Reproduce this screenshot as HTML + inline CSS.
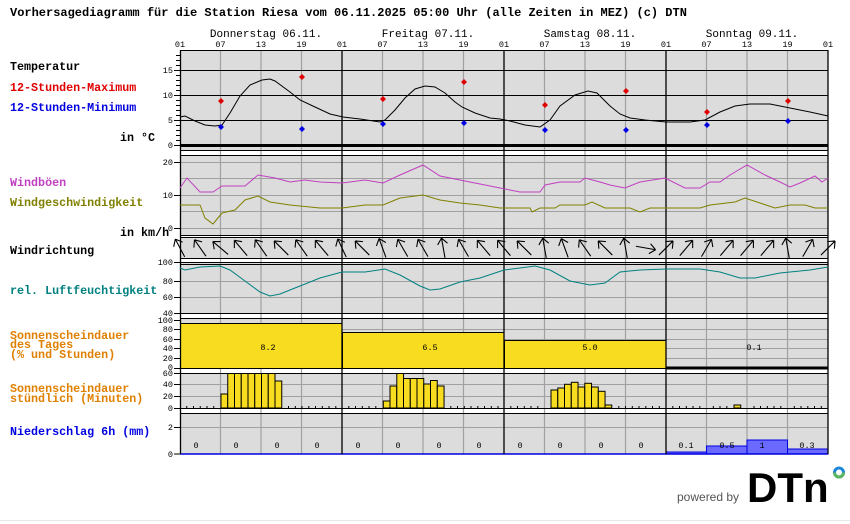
<!DOCTYPE html>
<html><head><meta charset="utf-8"><style>
html,body{margin:0;padding:0;background:#fff;}
svg{display:block;}
.m{font-family:"Liberation Mono",monospace;}
</style></head><body>
<svg width="850" height="524" viewBox="0 0 850 524" xmlns="http://www.w3.org/2000/svg">
<rect width="850" height="524" fill="#fff"/>
<text x="10" y="16" class="m" font-size="12" font-weight="bold">Vorhersagediagramm für die Station Riesa vom 06.11.2025 05:00 Uhr (alle Zeiten in MEZ)  (c) DTN</text>
<g class="m" font-size="11" text-anchor="middle">
<text x="266" y="37">Donnerstag 06.11.</text>
<text x="428" y="37">Freitag 07.11.</text>
<text x="590" y="37">Samstag 08.11.</text>
<text x="752" y="37">Sonntag 09.11.</text>
</g>
<g class="m" font-size="8.5" text-anchor="middle">
<text x="180" y="47">01</text><text x="220.5" y="47">07</text><text x="261" y="47">13</text><text x="301.5" y="47">19</text>
<text x="342" y="47">01</text><text x="382.5" y="47">07</text><text x="423" y="47">13</text><text x="463.5" y="47">19</text>
<text x="504" y="47">01</text><text x="544.5" y="47">07</text><text x="585" y="47">13</text><text x="625.5" y="47">19</text>
<text x="666" y="47">01</text><text x="706.5" y="47">07</text><text x="747" y="47">13</text><text x="787.5" y="47">19</text>
<text x="828" y="47">01</text>
</g>
<rect x="180" y="50" width="648" height="404" fill="#dcdcdc"/>
<g fill="#fff">
<rect x="180" y="151" width="648" height="4"/>
<rect x="180" y="236" width="648" height="1"/>
<rect x="180" y="259" width="648" height="3"/>
<rect x="180" y="314" width="648" height="4"/>
<rect x="180" y="369" width="648" height="4"/>
<rect x="180" y="409" width="648" height="4"/>
</g>
<g stroke="#a0a0a0" stroke-width="1">
<line x1="180" x2="828" y1="178.5" y2="178.5"/><line x1="180" x2="828" y1="195.5" y2="195.5"/><line x1="180" x2="828" y1="211.5" y2="211.5"/><line x1="180" x2="828" y1="162.5" y2="162.5"/><line x1="180" x2="828" y1="228.5" y2="228.5"/>
<line x1="180" x2="828" y1="281.5" y2="281.5"/><line x1="180" x2="828" y1="297.5" y2="297.5"/>
<line x1="180" x2="828" y1="329.5" y2="329.5"/><line x1="180" x2="828" y1="339.5" y2="339.5"/><line x1="180" x2="828" y1="348.5" y2="348.5"/><line x1="180" x2="828" y1="358.5" y2="358.5"/>
<line x1="180" x2="828" y1="384.5" y2="384.5"/><line x1="180" x2="828" y1="396.5" y2="396.5"/>
<line x1="180" x2="828" y1="427.5" y2="427.5"/>
</g>
<g stroke="#a0a0a0" stroke-width="1.2">
<line x1="220.5" x2="220.5" y1="50" y2="454"/><line x1="261" x2="261" y1="50" y2="454"/><line x1="301.5" x2="301.5" y1="50" y2="454"/>
<line x1="382.5" x2="382.5" y1="50" y2="454"/><line x1="423" x2="423" y1="50" y2="454"/><line x1="463.5" x2="463.5" y1="50" y2="454"/>
<line x1="544.5" x2="544.5" y1="50" y2="454"/><line x1="585" x2="585" y1="50" y2="454"/><line x1="625.5" x2="625.5" y1="50" y2="454"/>
<line x1="706.5" x2="706.5" y1="50" y2="454"/><line x1="747" x2="747" y1="50" y2="454"/><line x1="787.5" x2="787.5" y1="50" y2="454"/>
</g>
<g fill="#f8dc20" stroke="#000" stroke-width="1">
<rect x="180.5" y="323.5" width="161.5" height="45"/>
<rect x="342.5" y="332.5" width="161.5" height="36"/>
<rect x="504.5" y="340.5" width="161.5" height="28"/>
</g>
<g fill="#f8dc20" stroke="#000" stroke-width="1">
<rect x="221" y="394" width="6.75" height="14"/><rect x="227.75" y="373.5" width="6.75" height="34.5"/><rect x="234.5" y="373.5" width="6.75" height="34.5"/><rect x="241.25" y="373.5" width="6.75" height="34.5"/><rect x="248" y="373.5" width="6.75" height="34.5"/><rect x="254.75" y="373.5" width="6.75" height="34.5"/><rect x="261.5" y="373.5" width="6.75" height="34.5"/><rect x="268.25" y="373.5" width="6.75" height="34.5"/><rect x="275" y="381" width="6.75" height="27"/>
<rect x="383.3" y="401" width="6.75" height="7"/><rect x="390" y="386" width="6.75" height="22"/><rect x="396.8" y="373.5" width="6.75" height="34.5"/><rect x="403.5" y="378.5" width="6.75" height="29.5"/><rect x="410.3" y="378.5" width="6.75" height="29.5"/><rect x="417" y="378.5" width="6.75" height="29.5"/><rect x="423.8" y="384" width="6.75" height="24"/><rect x="430.5" y="380.5" width="6.75" height="27.5"/><rect x="437.3" y="386" width="6.75" height="22"/>
<rect x="551" y="390" width="6.75" height="18"/><rect x="557.8" y="388" width="6.75" height="20"/><rect x="564.5" y="384.3" width="6.75" height="23.7"/><rect x="571.3" y="382.3" width="6.75" height="25.7"/><rect x="578" y="387" width="6.75" height="21"/><rect x="584.8" y="383.3" width="6.75" height="24.7"/><rect x="591.5" y="387" width="6.75" height="21"/><rect x="598.3" y="391.3" width="6.75" height="16.7"/><rect x="605" y="405" width="6.75" height="3"/>
<rect x="734" y="405" width="6.75" height="3"/>
</g>
<g fill="#6a6aff" stroke="#0000e0" stroke-width="1">
<rect x="666" y="452" width="40.5" height="2"/>
<rect x="706.5" y="446" width="40.5" height="8"/>
<rect x="747" y="440" width="40.5" height="14"/>
<rect x="787.5" y="449" width="40.5" height="5"/>
</g>
<g stroke="#000" stroke-width="1">
<line x1="180" x2="828" y1="70.5" y2="70.5"/><line x1="180" x2="828" y1="95.5" y2="95.5"/><line x1="180" x2="828" y1="120.5" y2="120.5"/>
<line x1="180" x2="828" y1="50.5" y2="50.5"/>
<line x1="180" x2="828" y1="150.5" y2="150.5"/><line x1="180" x2="828" y1="155.5" y2="155.5"/>
<line x1="180" x2="828" y1="235.5" y2="235.5"/><line x1="180" x2="828" y1="237.5" y2="237.5"/>
<line x1="180" x2="828" y1="258.5" y2="258.5"/><line x1="180" x2="828" y1="262.5" y2="262.5"/><line x1="180" x2="828" y1="264.5" y2="264.5"/>
<line x1="180" x2="828" y1="313.5" y2="313.5"/><line x1="180" x2="828" y1="318.5" y2="318.5"/>
<line x1="180" x2="828" y1="373.5" y2="373.5"/>
<line x1="180" x2="828" y1="408.5" y2="408.5"/><line x1="180" x2="828" y1="413.5" y2="413.5"/>
</g>
<line x1="180" x2="828" y1="145.5" y2="145.5" stroke="#000" stroke-width="3"/>
<line x1="666" x2="828" y1="368" y2="368" stroke="#000" stroke-width="3"/>
<line x1="180" x2="828" y1="454" y2="454" stroke="#0000e0" stroke-width="1.5"/>
<g stroke="#000" stroke-width="1.3">
<line x1="180.5" x2="180.5" y1="50" y2="454"/><line x1="342" x2="342" y1="50" y2="454"/><line x1="504" x2="504" y1="50" y2="454"/><line x1="666" x2="666" y1="50" y2="454"/><line x1="828" x2="828" y1="50" y2="454"/>
</g>
<g stroke="#000" stroke-width="1">
<path d="M176 55.5h4M176 60.5h4M176 65.5h4M174 70.5h6M176 75.5h4M176 80.5h4M176 85.5h4M176 90.5h4M174 95.5h6M176 100.5h4M176 105.5h4M176 110.5h4M176 115.5h4M174 120.5h6M176 125.5h4M176 130.5h4M176 135.5h4M176 140.5h4M174 145.5h6"/>
<path d="M174 162.5h6M174 195.5h6M174 228.5h6M174 262.5h6M174 281.5h6M174 297.5h6M174 313.5h6M174 320.5h6M174 329.5h6M174 339.5h6M174 348.5h6M174 358.5h6M174 368.5h6M174 373.5h6M174 384.5h6M174 396.5h6M174 408.5h6M174 427.5h6M174 454h6"/>
<path d="M186.75 406v2M193.5 406v2M200.25 406v2M207 406v2M213.75 406v2M288.5 406v2M295.3 406v2M302 406v2M308.8 406v2M315.5 406v2M322.3 406v2M329 406v2M335.8 406v2M348.8 406v2M355.5 406v2M362.3 406v2M369 406v2M375.8 406v2M450.8 406v2M457.5 406v2M464.3 406v2M471 406v2M477.8 406v2M484.5 406v2M491.3 406v2M498 406v2M510.8 406v2M517.5 406v2M524.3 406v2M531 406v2M537.8 406v2M618.8 406v2M625.5 406v2M632.3 406v2M639 406v2M645.8 406v2M652.5 406v2M659.3 406v2M672.8 406v2M679.5 406v2M686.3 406v2M693 406v2M699.8 406v2M713.3 406v2M720 406v2M726.8 406v2M754 406v2M760.5 406v2M767.3 406v2M774 406v2M780.8 406v2M794.3 406v2M801 406v2M807.8 406v2M814.5 406v2M821.3 406v2"/>
</g>
<g class="m" font-size="8.5" text-anchor="end">
<text x="173" y="73">15</text><text x="173" y="98">10</text><text x="173" y="123">5</text><text x="173" y="148">0</text>
<text x="173" y="165">20</text><text x="173" y="198">10</text><text x="173" y="231">0</text>
<text x="173" y="265">100</text><text x="173" y="284">80</text><text x="173" y="300">60</text><text x="173" y="316">40</text>
<text x="173" y="323">100</text><text x="173" y="332">80</text><text x="173" y="342">60</text><text x="173" y="351">40</text><text x="173" y="361">20</text><text x="173" y="370">0</text>
<text x="173" y="376">60</text><text x="173" y="387">40</text><text x="173" y="399">20</text><text x="173" y="411">0</text>
<text x="173" y="430">2</text><text x="173" y="457">0</text>
</g>
<g class="m" font-size="11.7" font-weight="bold">
<text x="10" y="70" fill="#000">Temperatur</text>
<text x="10" y="91" fill="#e00000">12-Stunden-Maximum</text>
<text x="10" y="111" fill="#0000e0">12-Stunden-Minimum</text>
<text x="120" y="141" fill="#000">in °C</text>
<text x="10" y="186" fill="#c040c0">Windböen</text>
<text x="10" y="206" fill="#808000">Windgeschwindigkeit</text>
<text x="120" y="236" fill="#000">in km/h</text>
<text x="10" y="254" fill="#000">Windrichtung</text>
<text x="10" y="294" fill="#008080">rel. Luftfeuchtigkeit</text>
<text x="10" y="339" fill="#e08000">Sonnenscheindauer</text>
<text x="10" y="348" fill="#e08000">des Tages</text>
<text x="10" y="358" fill="#e08000">(% und Stunden)</text>
<text x="10" y="392" fill="#e08000">Sonnenscheindauer</text>
<text x="10" y="402" fill="#e08000">stündlich (Minuten)</text>
<text x="10" y="435" fill="#0000e0">Niederschlag 6h (mm)</text>
</g>
<polyline fill="none" stroke="#000" stroke-width="1" points="180,117 185,116 195,121 205,125 215,126 222,125 230,113 240,96 250,85 262,80 270,79 275,81 290,92 300,100 315,107 330,114 343,117 360,119 380,122 385,120 395,110 405,98 415,89 425,86 435,87 445,93 455,102 462,107 475,113 490,118 500,119 510,121 525,125 540,127 550,120 560,106 575,95 588,91 597,93 610,106 620,114 630,118 645,120 666,122 690,122 705,120 720,112 735,106 750,104 770,104 790,108 810,112 828,116"/>
<g fill="#e00000"><path d="M221 98l3 3-3 3-3-3z M302 74l3 3-3 3-3-3z M383 96l3 3-3 3-3-3z M464 79l3 3-3 3-3-3z M545 102l3 3-3 3-3-3z M626 88l3 3-3 3-3-3z M707 109l3 3-3 3-3-3z M788 98l3 3-3 3-3-3z"/></g>
<g fill="#0000e0"><path d="M221 124l3 3-3 3-3-3z M302 126l3 3-3 3-3-3z M383 121l3 3-3 3-3-3z M464 120l3 3-3 3-3-3z M545 127l3 3-3 3-3-3z M626 127l3 3-3 3-3-3z M707 122l3 3-3 3-3-3z M788 118l3 3-3 3-3-3z"/></g>
<polyline fill="none" stroke="#c040c0" stroke-width="1" points="180,188 187,178 200,192 213,192 222,186 245,186 258,175 275,178 290,182 305,180 320,182 342,183 365,180 383,183 400,175 423,165 440,176 460,180 480,184 500,188 520,192 540,192 545,185 560,182 580,182 585,178 600,182 610,185 625,188 640,182 665,178 685,188 700,188 710,182 720,182 730,175 747,165 765,175 780,182 790,187 800,183 815,176 822,182 828,178"/>
<polyline fill="none" stroke="#808000" stroke-width="1" points="180,205 200,205 205,218 213,224 222,213 235,210 245,200 258,196 270,202 290,205 320,208 342,208 365,205 383,205 400,198 423,195 440,200 460,203 480,205 500,208 530,208 532,212 540,208 555,208 560,205 585,205 592,202 605,208 630,208 640,212 650,208 700,208 710,205 735,202 745,198 760,203 775,208 790,205 805,205 815,208 828,208"/>
<polyline fill="none" stroke="#008080" stroke-width="1" points="180,268 185,270 200,267 220,266 230,270 245,281 260,292 270,296 280,294 300,286 320,278 342,272 365,272 385,269 400,275 420,286 430,290 440,289 460,282 480,278 504,270 520,268 535,266 550,270 570,281 590,285 605,283 620,272 640,270 666,269 700,269 720,272 740,278 755,278 780,273 810,270 828,267"/>
<defs><path id="ar" d="M-10,0 L10,0 M-10,0 L-4,-5 M-10,0 L-4,5" fill="none" stroke="#000" stroke-width="1.1"/></defs>
<g transform="translate(0,248)">
<use href="#ar" transform="translate(180,0) rotate(62)"/><use href="#ar" transform="translate(200.25,0) rotate(55)"/><use href="#ar" transform="translate(220.5,0) rotate(40)"/><use href="#ar" transform="translate(240.75,0) rotate(50)"/><use href="#ar" transform="translate(261,0) rotate(55)"/><use href="#ar" transform="translate(281.25,0) rotate(45)"/><use href="#ar" transform="translate(301.5,0) rotate(55)"/><use href="#ar" transform="translate(321.75,0) rotate(50)"/>
<use href="#ar" transform="translate(342,0) rotate(65)"/><use href="#ar" transform="translate(362.25,0) rotate(45)"/><use href="#ar" transform="translate(382.5,0) rotate(70)"/><use href="#ar" transform="translate(402.75,0) rotate(60)"/><use href="#ar" transform="translate(423,0) rotate(60)"/><use href="#ar" transform="translate(443.25,0) rotate(80)"/><use href="#ar" transform="translate(463.5,0) rotate(60)"/><use href="#ar" transform="translate(483.75,0) rotate(50)"/>
<use href="#ar" transform="translate(504,0) rotate(50)"/><use href="#ar" transform="translate(524.25,0) rotate(45)"/><use href="#ar" transform="translate(544.5,0) rotate(80)"/><use href="#ar" transform="translate(564.75,0) rotate(70)"/><use href="#ar" transform="translate(585,0) rotate(55)"/><use href="#ar" transform="translate(605.25,0) rotate(45)"/><use href="#ar" transform="translate(625.5,0) rotate(80)"/><use href="#ar" transform="translate(645.75,0) rotate(190)"/>
<use href="#ar" transform="translate(666,0) rotate(135)"/><use href="#ar" transform="translate(686.25,0) rotate(130)"/><use href="#ar" transform="translate(706.5,0) rotate(120)"/><use href="#ar" transform="translate(726.75,0) rotate(130)"/><use href="#ar" transform="translate(747,0) rotate(130)"/><use href="#ar" transform="translate(767.25,0) rotate(130)"/><use href="#ar" transform="translate(787.5,0) rotate(80)"/><use href="#ar" transform="translate(807.75,0) rotate(120)"/><use href="#ar" transform="translate(828,0) rotate(135)"/>
</g>
<g class="m" font-size="8.5" text-anchor="middle">
<text x="268" y="350">8.2</text><text x="430" y="350">6.5</text><text x="590" y="350">5.0</text><text x="754" y="350">0.1</text>
<text x="196" y="448">0</text><text x="236" y="448">0</text><text x="277" y="448">0</text><text x="317" y="448">0</text>
<text x="358" y="448">0</text><text x="398" y="448">0</text><text x="439" y="448">0</text><text x="479" y="448">0</text>
<text x="520" y="448">0</text><text x="560" y="448">0</text><text x="601" y="448">0</text><text x="641" y="448">0</text>
<text x="686" y="448">0.1</text><text x="727" y="448">0.5</text><text x="762" y="448">1</text><text x="807" y="448">0.3</text>
</g>
<line x1="0" x2="850" y1="520.5" y2="520.5" stroke="#e8e8e8"/>
<text x="677" y="501" font-family="Liberation Sans,sans-serif" font-size="12" fill="#555">powered by</text>
<text x="747" y="502" font-family="Liberation Sans,sans-serif" font-size="42" font-weight="bold" fill="#000">DTn</text>
<circle cx="839" cy="472.5" r="4.5" fill="none" stroke="#1e88d8" stroke-width="3"/>
<path d="M834.5 472.5a4.5 4.5 0 0 0 9 0" fill="none" stroke="#5cb85c" stroke-width="3"/>
</svg>
</body></html>
